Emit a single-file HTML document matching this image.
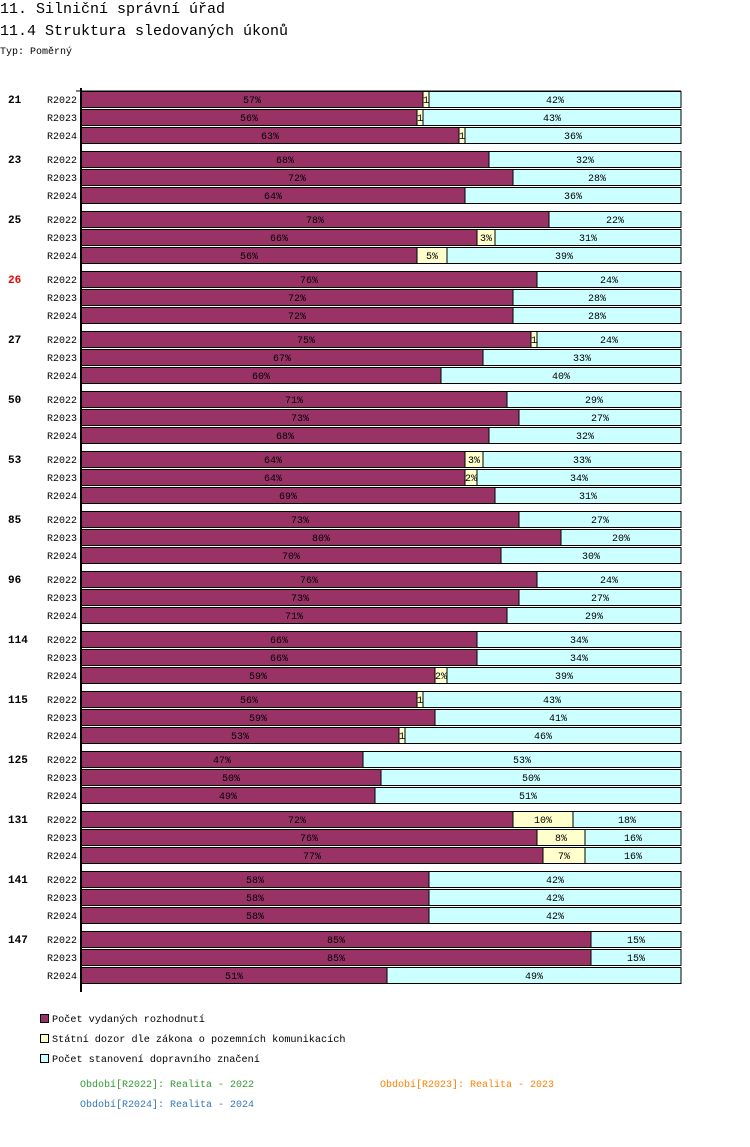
<!DOCTYPE html>
<html><head><meta charset="utf-8"><style>
body{margin:0;background:#fff;}
svg text{font-family:"Liberation Mono","DejaVu Sans Mono",monospace;}
</style></head><body>
<svg id="chart" width="750" height="1142" xmlns="http://www.w3.org/2000/svg">
<text x="0" y="13" font-size="15" fill="#000">11. Silniční správní úřad</text>
<text x="0" y="35" font-size="15" fill="#000">11.4 Struktura sledovaných úkonů</text>
<text x="0" y="54" font-size="10" fill="#000">Typ: Poměrný</text>
<g id="bars"></g>
<line x1="81" y1="88" x2="81" y2="992" stroke="#000" stroke-width="2"/>
<line x1="76" y1="91" x2="681" y2="91" stroke="#000" stroke-width="1"/>
<g>
<rect x="40.5" y="1014.5" width="8" height="8" fill="#993366" stroke="#000"/>
<text x="52" y="1022" font-size="10.2">Počet vydaných rozhodnutí</text>
<rect x="40.5" y="1034.5" width="8" height="8" fill="#ffffcc" stroke="#000"/>
<text x="52" y="1042" font-size="10.2">Státní dozor dle zákona o pozemních komunikacích</text>
<rect x="40.5" y="1054.5" width="8" height="8" fill="#ccffff" stroke="#000"/>
<text x="52" y="1062" font-size="10.2">Počet stanovení dopravního značení</text>
</g>
<text x="80" y="1087" font-size="10" fill="#339933">Období[R2022]: Realita - 2022</text>
<text x="380" y="1087" font-size="10" fill="#ff8000">Období[R2023]: Realita - 2023</text>
<text x="80" y="1107" font-size="10" fill="#3377bb">Období[R2024]: Realita - 2024</text>
</svg>
<script>
const groups=["21","23","25","26","27","50","53","85","96","114","115","125","131","141","147"];
const periods=["R2022","R2023","R2024"];
const rozhodnuti=[[57,56,63],[68,72,64],[78,66,56],[76,72,72],[75,67,60],[71,73,68],[64,64,69],[73,80,70],[76,73,71],[66,66,59],[56,59,53],[47,50,49],[72,76,77],[58,58,58],[85,85,51]];
const dozor=[[1,1,1],[0,0,0],[0,3,5],[0,0,0],[1,0,0],[0,0,0],[3,2,0],[0,0,0],[0,0,0],[0,0,2],[1,0,1],[0,0,0],[10,8,7],[0,0,0],[0,0,0]];
const znaceni=[[42,43,36],[32,28,36],[22,31,39],[24,28,28],[24,33,40],[29,27,32],[33,34,31],[27,20,30],[24,27,29],[34,34,39],[43,41,46],[53,50,51],[18,16,16],[42,42,42],[15,15,49]];
const highlight=["26"];
const NS="http://www.w3.org/2000/svg";
const g=document.getElementById("bars");
const X0=81,W=600,Y0=91,GP=60,RP=18,BH=17;
const xs=v=>v/100*W;
const colors=["#993366","#ffffcc","#ccffff"];
const segNames=["rozhodnuti","dozor","znaceni"];
function mk(t,a){const e=document.createElementNS(NS,t);for(const k in a)e.setAttribute(k,a[k]);g.appendChild(e);return e;}
groups.forEach((grp,gi)=>{
  const gy=Y0+gi*GP;
  const gl=mk("text",{x:8,y:gy+12,"font-size":11,"font-weight":"bold",fill:highlight.includes(grp)?"#ee0000":"#000"});
  
  
  gl.textContent=grp;
  periods.forEach((p,pi)=>{
    const y=gy+pi*RP;
    const pl=mk("text",{x:77,y:y+12,"font-size":10,"text-anchor":"end",fill:"#000"});
    
    
    pl.textContent=p;
    const vals=[rozhodnuti[gi][pi],dozor[gi][pi],znaceni[gi][pi]];
    let cx=X0;
    vals.forEach((v,si)=>{
      if(v<=0)return;
      const w=xs(v);
      const r=mk("rect",{x:cx,y:y+0.5,width:w,height:BH-1,fill:colors[si],stroke:"#000","stroke-width":1});
      
      
      const t=mk("text",{x:cx+w/2,y:y+12,"font-size":10,"text-anchor":"middle",fill:"#000"});
      
      
      t.textContent=v<2?String(v):v+"%";
      cx+=w;
    });
  });
});
</script>
</body></html>
